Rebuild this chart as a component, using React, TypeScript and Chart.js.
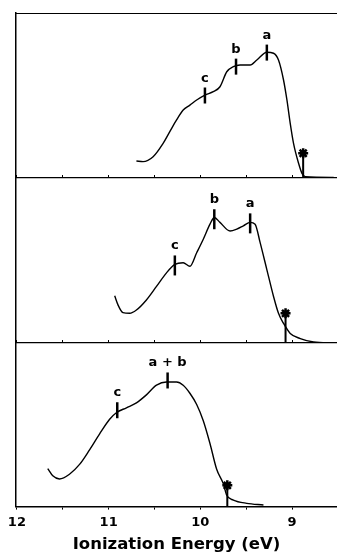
import React, { useEffect, useRef } from 'react';
import { Chart, registerables } from 'chart.js';

Chart.register(...registerables);

// ---- axis ----
const X_MIN = 8.51;
const X_MAX = 12.01;
const xTickValues = [12, 11.5, 11, 10.5, 10, 9.5, 9];
const xTickLabels = ['12', '', '11', '', '10', '', '9'];
const xTitle = 'Ionization Energy (eV)';

// ---- panel 1 (top) ----
const p1Energy = [10.697, 10.625, 10.515, 10.406, 10.333, 10.259, 10.187, 10.114, 10.04, 9.95, 9.859, 9.786, 9.712, 9.64, 9.567, 9.457, 9.384, 9.275, 9.202, 9.148, 9.093, 9.056, 9.02, 8.984, 8.929, 8.892, 8.856, 8.546];
const p1Signal = [0.103, 0.099, 0.129, 0.21, 0.281, 0.352, 0.412, 0.442, 0.473, 0.503, 0.523, 0.553, 0.644, 0.675, 0.685, 0.685, 0.715, 0.762, 0.756, 0.715, 0.594, 0.473, 0.331, 0.21, 0.089, 0.028, 0.008, 0.004];
const p1MarkEnergy = [9.95, 9.611, 9.275];
const p1MarkSignal = [0.5, 0.675, 0.76];
const p1MarkLabels = ['c', 'b', 'a'];
const p1StarEnergy = 8.879;
const p1StarSignal = 0.15;

// ---- panel 2 (middle) ----
const p2Energy = [10.934, 10.898, 10.844, 10.77, 10.697, 10.588, 10.478, 10.369, 10.278, 10.187, 10.114, 10.04, 9.968, 9.895, 9.848, 9.786, 9.676, 9.603, 9.531, 9.457, 9.403, 9.348, 9.275, 9.202, 9.148, 9.093, 9.02, 8.91, 8.765, 8.546];
const p2Signal = [0.286, 0.231, 0.184, 0.18, 0.2, 0.261, 0.343, 0.425, 0.476, 0.486, 0.465, 0.547, 0.629, 0.72, 0.761, 0.731, 0.679, 0.69, 0.71, 0.731, 0.72, 0.608, 0.445, 0.282, 0.18, 0.119, 0.058, 0.027, 0.006, 0.0];
const p2MarkEnergy = [10.278, 9.848, 9.457];
const p2MarkSignal = [0.47, 0.75, 0.725];
const p2MarkLabels = ['c', 'b', 'a'];
const p2StarEnergy = 9.071;
const p2StarSignal = 0.18;

// ---- panel 3 (bottom) ----
const p3Energy = [11.664, 11.609, 11.536, 11.427, 11.317, 11.208, 11.098, 10.989, 10.916, 10.806, 10.697, 10.588, 10.478, 10.369, 10.259, 10.187, 10.114, 10.04, 9.968, 9.895, 9.822, 9.749, 9.712, 9.64, 9.494, 9.312];
const p3Signal = [0.232, 0.188, 0.169, 0.198, 0.258, 0.347, 0.445, 0.534, 0.574, 0.604, 0.634, 0.683, 0.742, 0.762, 0.762, 0.742, 0.693, 0.624, 0.525, 0.386, 0.228, 0.139, 0.069, 0.04, 0.02, 0.01];
const p3MarkEnergy = [10.906, 10.357];
const p3MarkSignal = [0.589, 0.771];
const p3MarkLabels = ['c', 'a + b'];
const p3StarEnergy = 9.706;
const p3StarSignal = 0.13;

const FONT = 'DejaVu Sans';

const peakLabelPlugin = {
  id: 'peakLabels',
  afterDatasetsDraw(chart: any, _args: any, opts: any) {
    if (!opts || !opts.labels) return;
    const meta = chart.getDatasetMeta(opts.datasetIndex);
    const ctx = chart.ctx;
    ctx.save();
    ctx.font = `bold 13px "${FONT}"`;
    ctx.fillStyle = '#000';
    ctx.textAlign = 'center';
    ctx.textBaseline = 'alphabetic';
    meta.data.forEach((pt: any, i: number) => {
      ctx.fillText(opts.labels[i], pt.x, pt.y - opts.offset);
    });
    ctx.restore();
  },
};

type PanelSpec = {
  energy: number[];
  signal: number[];
  markE: number[];
  markV: number[];
  labels: string[];
  starE: number;
  starV: number;
  markRadius: number;
  labelOffset: number;
  topTicks: boolean;
  bottomAxis: boolean;
  padTop: number;
};

const setTicks = (scale: any) => {
  scale.ticks = xTickValues.map((v) => ({ value: v }));
};

function buildConfig(p: PanelSpec): any {
  return {
    type: 'line',
    data: {
      datasets: [
        {
          data: p.energy.map((e, i) => ({ x: e, y: p.signal[i] })),
          borderColor: '#000',
          borderWidth: 1.4,
          pointRadius: 0,
          cubicInterpolationMode: 'monotone',
          fill: false,
          clip: 4,
        },
        {
          data: p.markE.map((e, i) => ({ x: e, y: p.markV[i] })),
          showLine: false,
          pointStyle: 'line',
          pointRotation: 90,
          pointRadius: p.markRadius,
          pointBorderWidth: 2.5,
          borderColor: '#000',
          backgroundColor: '#000',
          clip: false,
        },
        {
          data: [
            { x: p.starE, y: p.starV },
            { x: p.starE, y: 0 },
          ],
          showLine: true,
          borderColor: '#000',
          backgroundColor: '#000',
          borderWidth: 2,
          pointStyle: 'star',
          pointRadius: [5, 0],
          pointBorderWidth: 2.5,
          clip: false,
        },
      ],
    },
    options: {
      animation: false,
      responsive: false,
      events: [],
      layout: { autoPadding: false, padding: { left: 16, right: 0, top: p.padTop, bottom: 0 } },
      plugins: {
        legend: { display: false },
        tooltip: { enabled: false },
        peakLabels: { datasetIndex: 1, labels: p.labels, offset: p.labelOffset },
      },
      scales: {
        x: {
          type: 'linear',
          position: 'bottom',
          reverse: true,
          min: X_MIN,
          max: X_MAX,
          display: p.bottomAxis,
          afterBuildTicks: setTicks,
          grid: {
            display: true,
            drawOnChartArea: false,
            drawTicks: true,
            tickLength: 3,
            color: '#000',
            lineWidth: 1,
          },
          border: { display: true, color: '#000', width: 1.5 },
          ticks: {
            autoSkip: false,
            maxRotation: 0,
            padding: 5,
            color: '#000',
            font: { family: FONT, size: 13, weight: 'bold' },
            callback: (v: number) => xTickLabels[xTickValues.indexOf(v)] ?? '',
          },
          title: {
            display: true,
            text: xTitle,
            color: '#000',
            font: { family: FONT, size: 16.5, weight: 'bold' },
            padding: { top: 0, bottom: 1 },
          },
        },
        xt: {
          type: 'linear',
          position: 'top',
          reverse: true,
          min: X_MIN,
          max: X_MAX,
          display: true,
          afterBuildTicks: setTicks,
          grid: {
            display: true,
            drawOnChartArea: false,
            drawTicks: p.topTicks,
            tickLength: 3,
            color: '#000',
            lineWidth: 1,
          },
          border: { display: true, color: '#000', width: p.topTicks ? 1.3 : 1 },
          ticks: { display: false },
        },
        y: {
          type: 'linear',
          position: 'left',
          min: 0,
          max: 1,
          display: true,
          grid: { display: false, drawTicks: false },
          border: { display: true, color: '#000', width: 1.5 },
          ticks: { display: false },
        },
      },
    },
    plugins: [peakLabelPlugin],
  };
}

const panels: { top: number; height: number; spec: PanelSpec }[] = [
  {
    top: 0,
    height: 178,
    spec: {
      energy: p1Energy, signal: p1Signal, markE: p1MarkEnergy, markV: p1MarkSignal, labels: p1MarkLabels,
      starE: p1StarEnergy, starV: p1StarSignal, markRadius: 8, labelOffset: 14,
      topTicks: false, bottomAxis: false, padTop: 13,
    },
  },
  {
    top: 175,
    height: 168,
    spec: {
      energy: p2Energy, signal: p2Signal, markE: p2MarkEnergy, markV: p2MarkSignal, labels: p2MarkLabels,
      starE: p2StarEnergy, starV: p2StarSignal, markRadius: 10, labelOffset: 16,
      topTicks: true, bottomAxis: false, padTop: 0,
    },
  },
  {
    top: 340,
    height: 216,
    spec: {
      energy: p3Energy, signal: p3Signal, markE: p3MarkEnergy, markV: p3MarkSignal, labels: p3MarkLabels,
      starE: p3StarEnergy, starV: p3StarSignal, markRadius: 8, labelOffset: 14,
      topTicks: true, bottomAxis: true, padTop: 0,
    },
  },
];

function Panel({ top, height, spec }: { top: number; height: number; spec: PanelSpec }) {
  const ref = useRef<HTMLCanvasElement | null>(null);
  useEffect(() => {
    if (!ref.current) return;
    const chart = new Chart(ref.current, buildConfig(spec));
    return () => chart.destroy();
  }, []);
  return (
    <canvas
      ref={ref}
      width={337}
      height={height}
      style={{ position: 'absolute', left: 0, top, width: 337, height }}
    />
  );
}

export default function App() {
  return (
    <div style={{ position: 'absolute', left: 0, top: 0, width: 337, height: 556, background: '#fff' }}>
      {panels.map((p, i) => (
        <Panel key={i} top={p.top} height={p.height} spec={p.spec} />
      ))}
    </div>
  );
}
